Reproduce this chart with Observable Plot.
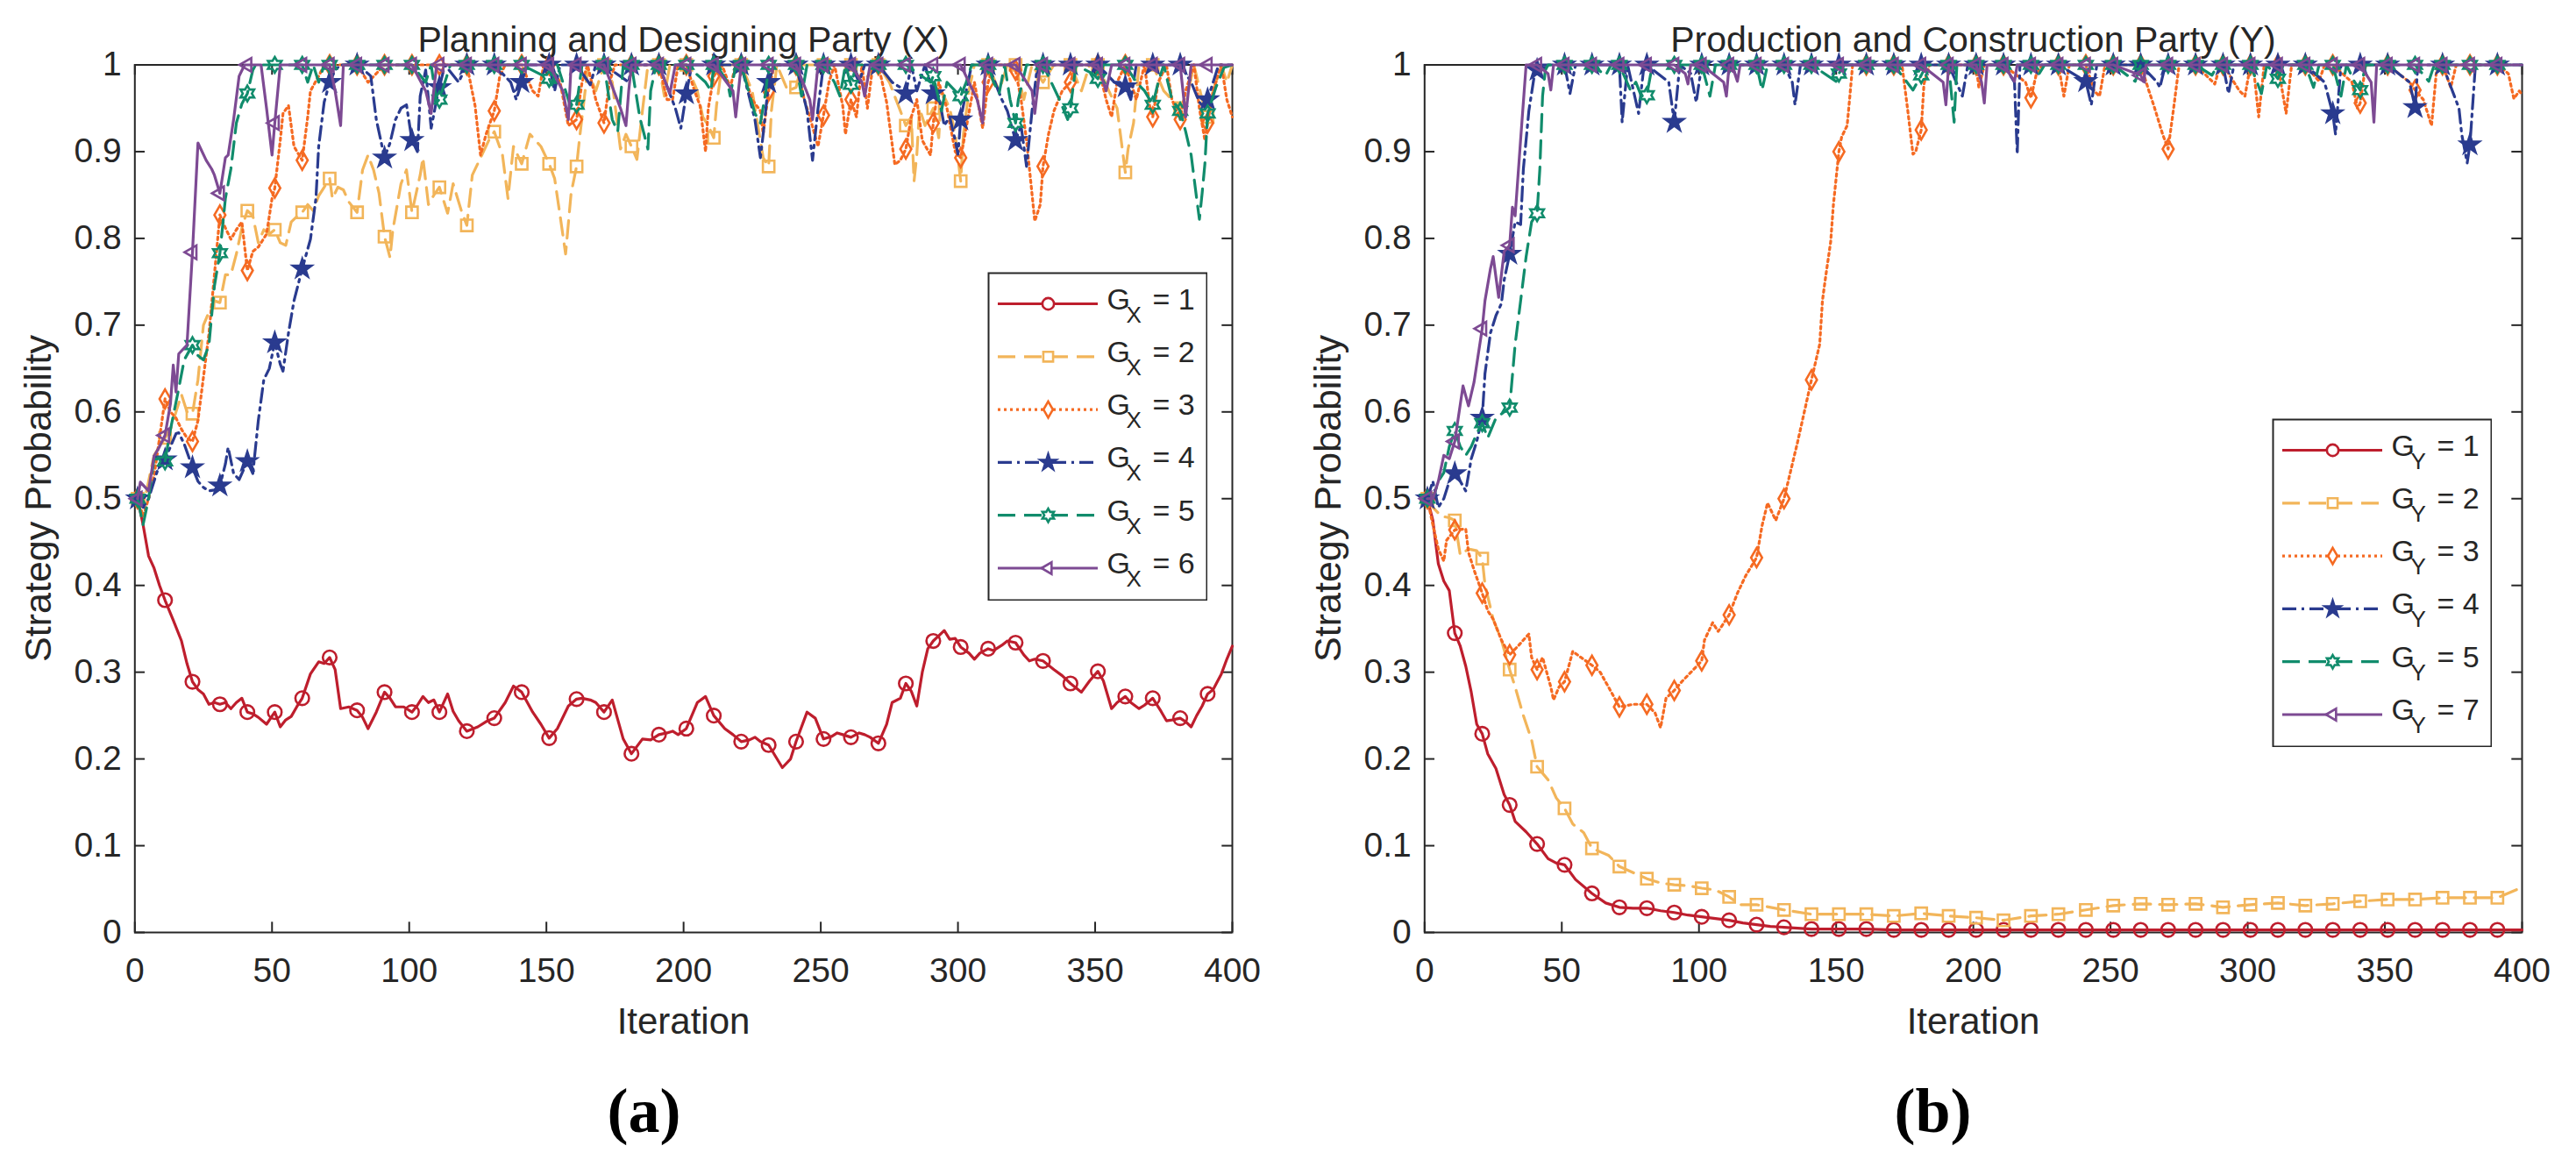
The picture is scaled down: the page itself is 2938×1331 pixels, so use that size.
<!DOCTYPE html>
<html>
<head>
<meta charset="utf-8">
<script src="https://cdn.jsdelivr.net/npm/d3@7"></script>
<script src="https://cdn.jsdelivr.net/npm/@observablehq/plot@0.6"></script>
<style>
html,body{margin:0;padding:0;background:#fff;}
#fig{position:relative;width:2938px;height:1331px;overflow:hidden;background:#fff;}
#fig svg{position:absolute;max-width:none;}
</style>
</head>
<body>
<div id="fig"></div>
<script>
// ---------- text ----------
const titleX = "Planning and Designing Party (X)";
const titleY = "Production and Construction Party (Y)";
const xLabel = "Iteration";
const yLabel = "Strategy Probability";
const panelTags = ["(a)", "(b)"];
const legendNamesX = ["1", "2", "3", "4", "5", "6"];
const legendNamesY = ["1", "2", "3", "4", "5", "7"];

// ---------- ticks ----------
const xTicks = [0, 50, 100, 150, 200, 250, 300, 350, 400];
const yTicks = [0, 0.1, 0.2, 0.3, 0.4, 0.5, 0.6, 0.7, 0.8, 0.9, 1];

// marker iterations: 1, 11, 21, ..., 391
const markIters = d3.range(1, 400, 10);

// ---------- Panel (a): Planning and Designing Party ----------
const X1_marks = [0.5,0.383,0.289,0.263,0.254,0.254,0.27,0.317,0.256,0.277,
  0.254,0.254,0.232,0.247,0.277,0.224,0.269,0.254,0.206,0.228,
  0.235,0.25,0.22,0.216,0.22,0.223,0.225,0.218,0.287,0.336,
  0.329,0.327,0.334,0.313,0.287,0.301,0.272,0.27,0.247,0.275];
const X1_extra = [[3,0.47],[5,0.434],[7,0.42],[9,0.4],[14,0.36],[17,0.336],[19,0.31],[23,0.28],[25,0.275],[27,0.263],[29,0.265],[33,0.265],[35,0.258],[37,0.265],[39,0.27],[43,0.252],[45,0.248],[48,0.24],[53,0.237],[55,0.245],[57,0.249],[59,0.26],[64,0.298],[67,0.312],[69,0.31],[73,0.303],[75,0.258],[78,0.26],[83,0.248],[85,0.235],[88,0.254],[93,0.27],[95,0.26],[98,0.26],[103,0.262],[105,0.272],[107,0.265],[109,0.268],[114,0.275],[116,0.255],[118,0.244],[125,0.237],[128,0.243],[135,0.265],[138,0.284],[145,0.254],[148,0.24],[154,0.235],[158,0.261],[163,0.27],[166,0.268],[168,0.265],[174,0.268],[178,0.223],[185,0.223],[188,0.222],[194,0.23],[196,0.232],[198,0.228],[205,0.265],[208,0.272],[215,0.235],[218,0.228],[224,0.222],[226,0.225],[228,0.22],[236,0.19],[239,0.2],[245,0.254],[248,0.247],[254,0.226],[256,0.23],[258,0.228],[264,0.23],[266,0.228],[268,0.225],[274,0.24],[276,0.265],[279,0.27],[283,0.278],[285,0.261],[287,0.3],[289,0.327],[293,0.342],[295,0.348],[297,0.338],[299,0.339],[304,0.322],[306,0.315],[308,0.322],[313,0.325],[316,0.331],[318,0.336],[324,0.32],[326,0.313],[328,0.315],[335,0.303],[338,0.296],[343,0.282],[345,0.277],[348,0.29],[353,0.29],[356,0.258],[358,0.265],[363,0.265],[366,0.258],[368,0.262],[374,0.255],[376,0.244],[378,0.245],[383,0.243],[385,0.237],[387,0.25],[389,0.261],[393,0.28],[396,0.298],[398,0.315],[400,0.33]];

const X2_marks = [0.5,0.57,0.598,0.726,0.832,0.81,0.83,0.869,0.83,0.802,
  0.83,0.859,0.815,0.923,0.886,0.886,0.883,1,0.906,1,
  1,0.916,1,0.883,0.974,1,1,1,0.93,0.95,
  0.866,1,1,0.98,1,1,0.876,1,0.95,0.94];
const X2_extra = [[3,0.49],[5,0.52],[7,0.55],[9,0.56],[13,0.58],[15,0.6],[17,0.62],[19,0.6],[23,0.637],[25,0.7],[27,0.715],[29,0.728],[33,0.758],[35,0.758],[37,0.782],[39,0.812],[43,0.826],[45,0.795],[47,0.81],[49,0.805],[53,0.795],[55,0.792],[57,0.819],[59,0.825],[63,0.839],[65,0.832],[67,0.849],[69,0.859],[72,0.846],[74,0.859],[76,0.856],[78,0.842],[83,0.879],[85,0.896],[87,0.879],[89,0.852],[93,0.778],[94,0.809],[97,0.863],[99,0.879],[104,0.873],[105,0.893],[107,0.839],[109,0.85],[114,0.829],[116,0.863],[119,0.832],[123,0.873],[126,0.893],[129,0.913],[134,0.896],[136,0.846],[138,0.906],[144,0.92],[148,0.906],[153,0.869],[155,0.826],[157,0.782],[159,0.852],[162,0.913],[165,0.994],[168,0.97],[174,0.98],[177,0.903],[179,0.92],[183,0.891],[185,0.947],[187,1],[193,0.964],[195,1],[205,0.97],[207,0.94],[209,0.93],[212,0.953],[214,1],[225,0.97],[229,0.893],[232,0.947],[234,1],[238,0.97],[243,1],[265,0.98],[275,0.98],[279,0.947],[283,0.94],[284,0.866],[285,0.896],[286,0.95],[288,0.93],[293,0.916],[294,0.97],[297,0.95],[299,0.92],[302,0.92],[304,0.97],[306,1],[315,0.97],[318,1],[324,0.96],[327,1],[335,1],[345,0.97],[348,1],[355,0.97],[358,0.95],[362,0.903],[364,0.933],[366,1],[375,0.97],[378,0.96],[384,0.97],[386,1],[389,0.96],[393,0.97],[396,1],[398,0.98],[400,1]];

const X3_marks = [0.5,0.615,0.566,0.827,0.763,0.858,0.89,1,1,1,
  1,1,1,0.947,1,1,0.937,0.933,1,1,
  1,0.987,1,0.97,1,0.942,0.96,1,0.903,0.933,
  0.893,0.98,0.994,0.883,0.98,1,1,0.94,0.937,0.933];
const X3_extra = [[3,0.48],[5,0.5],[7,0.526],[9,0.57],[13,0.6],[15,0.593],[17,0.58],[19,0.57],[23,0.59],[25,0.64],[27,0.69],[29,0.758],[33,0.812],[35,0.799],[37,0.81],[39,0.819],[43,0.785],[45,0.79],[48,0.805],[50,0.846],[53,0.913],[54,0.944],[56,0.953],[58,0.906],[63,0.94],[64,0.97],[67,0.987],[69,1],[85,0.98],[124,0.953],[126,0.896],[128,0.92],[133,0.987],[135,1],[145,0.97],[147,0.964],[149,1],[155,0.98],[158,0.93],[163,0.98],[165,1],[168,0.96],[173,0.98],[175,1],[194,0.96],[196,0.96],[198,1],[204,0.97],[206,0.953],[208,0.9],[209,0.95],[214,1],[217,0.974],[219,1],[225,0.96],[228,0.947],[229,0.92],[233,1],[244,0.96],[246,0.94],[249,0.906],[253,0.98],[255,1],[258,0.953],[259,0.92],[263,0.94],[265,1],[267,0.95],[269,1],[274,0.957],[277,0.885],[279,0.89],[283,0.94],[285,0.96],[287,0.913],[290,0.896],[293,0.98],[296,0.95],[299,0.9],[303,0.927],[306,0.98],[309,0.927],[313,1],[318,1],[323,0.96],[325,0.913],[328,0.82],[330,0.839],[333,0.92],[335,0.947],[338,0.97],[343,1],[354,0.96],[356,0.94],[358,0.98],[365,0.96],[368,1],[370,0.95],[373,0.98],[376,1],[378,0.96],[383,0.97],[386,1],[388,0.95],[390,0.913],[393,0.97],[396,1],[398,0.96],[400,0.94]];

const X4_marks = [0.5,0.545,0.536,0.515,0.543,0.68,0.765,0.98,1,0.893,
  0.913,0.974,1,1,0.98,1,1,1,1,1,
  0.967,1,1,0.98,1,1,1,1,0.967,0.967,
  0.937,1,0.913,1,1,1,0.975,1,1,0.96];
const X4_extra = [[3,0.49],[5,0.5],[7,0.52],[9,0.54],[13,0.56],[15,0.575],[16,0.576],[18,0.563],[23,0.52],[25,0.513],[27,0.509],[29,0.51],[33,0.54],[34,0.559],[36,0.529],[38,0.522],[43,0.529],[45,0.59],[47,0.637],[49,0.65],[53,0.655],[54,0.647],[56,0.691],[58,0.728],[64,0.799],[66,0.846],[67,0.906],[69,0.957],[73,0.994],[75,1],[85,0.99],[86,0.987],[88,0.937],[93,0.91],[95,0.937],[97,0.95],[99,0.954],[103,0.9],[104,0.964],[106,0.994],[108,0.927],[110,0.96],[113,1],[118,0.98],[137,0.98],[139,0.96],[143,1],[153,0.97],[155,1],[166,0.977],[168,1],[180,0.98],[197,0.95],[199,0.927],[203,1],[226,0.937],[228,0.893],[229,0.92],[233,1],[245,0.947],[247,0.89],[249,0.95],[264,0.98],[266,1],[276,0.98],[279,0.974],[283,1],[285,0.97],[288,1],[293,0.964],[295,0.93],[297,0.94],[299,0.913],[300,0.897],[303,0.97],[305,1],[316,0.96],[318,0.947],[323,0.93],[325,0.883],[327,0.947],[329,1],[357,0.98],[359,0.98],[363,0.96],[365,1],[385,0.98],[388,0.957],[390,0.95],[393,0.98],[395,1],[400,1]];

const X5_marks = [0.5,0.543,0.677,0.783,0.967,1,1,1,1,1,
  1,0.96,1,1,1,0.984,0.954,1,1,1,
  1,1,1,1,1,1,0.977,1,1,0.987,
  0.964,1,0.933,1,0.95,0.984,1,0.954,0.947,0.944];
const X5_extra = [[3,0.47],[5,0.5],[7,0.546],[9,0.545],[13,0.58],[16,0.627],[18,0.66],[23,0.665],[25,0.66],[27,0.677],[29,0.745],[33,0.846],[35,0.88],[37,0.933],[39,0.955],[43,0.994],[44,1],[63,0.98],[65,1],[67,0.98],[69,1],[106,0.98],[108,1],[110,0.957],[113,0.98],[115,1],[152,0.977],[154,1],[159,0.95],[163,1],[174,0.937],[176,0.923],[178,1],[184,0.94],[187,0.903],[188,0.97],[190,1],[208,0.98],[210,0.97],[212,1],[216,0.98],[217,0.964],[219,1],[226,0.944],[228,0.933],[230,0.97],[232,1],[243,0.964],[245,1],[255,0.98],[257,0.964],[259,1],[263,1],[290,0.98],[294,0.947],[296,0.98],[299,0.97],[303,0.98],[305,1],[313,0.98],[315,0.967],[317,1],[319,0.96],[322,0.96],[325,1],[337,0.96],[340,0.937],[343,1],[349,0.99],[353,1],[365,0.98],[368,0.97],[373,0.98],[375,1],[378,0.96],[383,0.923],[385,0.896],[387,0.846],[388,0.822],[389,0.852],[390,0.886],[394,0.974],[397,0.997],[400,1]];

const X6_marks = [0.5,0.573,0.784,0.852,1,0.933,1,1,1,1,
  1,1,1,1,1,1,1,1,1,1,
  1,1,1,1,1,1,1,1,1,1,
  1,1,1,1,1,1,1,1,1,1];
const X6_extra = [[2,0.519],[5,0.509],[7,0.549],[9,0.56],[13,0.61],[14,0.654],[15,0.623],[16,0.667],[19,0.677],[23,0.91],[26,0.89],[28,0.88],[29,0.873],[33,0.893],[34,0.896],[36,0.937],[38,0.987],[40,1],[46,1],[48,0.95],[50,0.896],[53,1],[73,0.97],[75,0.93],[76,1],[106,0.97],[108,0.944],[110,1],[156,0.97],[158,0.937],[159,1],[177,0.95],[179,0.93],[180,0.97],[195,0.967],[197,1],[218,0.97],[219,0.94],[246,0.96],[247,0.937],[249,1],[265,0.98],[266,0.964],[268,1],[307,0.96],[309,0.933],[310,1],[327,0.97],[328,0.944],[330,1],[354,0.97],[356,1],[383,0.94],[385,1],[400,1]];

// ---------- Panel (b): Production and Construction Party ----------
const Y1_marks = [0.5,0.345,0.229,0.147,0.102,0.078,0.045,0.029,0.028,0.023,
  0.018,0.014,0.009,0.006,0.004,0.004,0.004,0.003,0.003,0.003,
  0.003,0.003,0.003,0.003,0.003,0.003,0.003,0.003,0.003,0.003,
  0.003,0.003,0.003,0.003,0.003,0.003,0.003,0.003,0.003,0.003];
const Y1_extra = [[3,0.475],[5,0.425],[7,0.405],[9,0.394],[13,0.33],[15,0.307],[17,0.277],[19,0.24],[23,0.206],[26,0.189],[29,0.159],[33,0.128],[37,0.116],[45,0.085],[48,0.08],[55,0.061],[66,0.034],[76,0.028],[86,0.025],[96,0.02],[106,0.016],[116,0.011],[126,0.007],[400,0.003]];

const Y2_marks = [0.5,0.475,0.431,0.303,0.191,0.143,0.097,0.076,0.062,0.055,
  0.051,0.041,0.032,0.026,0.021,0.021,0.021,0.019,0.022,0.019,
  0.017,0.014,0.019,0.021,0.026,0.031,0.033,0.032,0.033,0.029,
  0.032,0.034,0.031,0.033,0.036,0.038,0.038,0.04,0.04,0.04];
const Y2_extra = [[3,0.49],[6,0.48],[9,0.478],[13,0.435],[16,0.442],[19,0.44],[22,0.401],[25,0.361],[28,0.337],[33,0.283],[36,0.25],[39,0.222],[45,0.176],[48,0.155],[54,0.125],[58,0.115],[67,0.089],[76,0.069],[86,0.057],[96,0.054],[106,0.049],[115,0.032],[400,0.052]];

const Y3_marks = [0.5,0.464,0.391,0.32,0.303,0.289,0.308,0.26,0.263,0.279,
  0.313,0.366,0.432,0.5,0.637,0.9,1,1,0.925,1,
  1,1,0.962,1,1,1,1,0.903,1,1,
  1,1,1,1,0.956,1,0.971,1,1,1];
const Y3_extra = [[3,0.47],[5,0.442],[7,0.428],[8,0.452],[15,0.465],[16,0.438],[18,0.418],[23,0.371],[25,0.361],[28,0.337],[34,0.33],[36,0.337],[38,0.344],[39,0.317],[43,0.317],[46,0.283],[47,0.268],[49,0.283],[54,0.324],[57,0.317],[64,0.3],[67,0.283],[76,0.263],[84,0.253],[86,0.236],[88,0.27],[94,0.29],[98,0.303],[102,0.337],[105,0.357],[107,0.347],[114,0.391],[117,0.411],[123,0.469],[125,0.495],[128,0.475],[136,0.566],[144,0.678],[145,0.728],[146,0.752],[148,0.796],[149,0.839],[152,0.917],[154,0.93],[155,0.964],[156,1],[174,1],[176,0.95],[178,0.897],[179,0.9],[182,0.978],[184,1],[202,0.974],[204,1],[219,0.98],[223,0.99],[225,1],[233,0.964],[235,1],[244,0.97],[246,0.964],[248,1],[264,0.97],[266,0.951],[269,0.92],[273,0.95],[275,1],[288,0.978],[290,1],[297,0.97],[299,0.964],[302,1],[304,0.94],[306,1],[314,0.944],[316,1],[326,0.981],[328,1],[338,0.98],[340,0.95],[343,1],[359,0.98],[364,0.96],[367,0.93],[369,1],[374,0.974],[376,1],[395,0.99],[397,0.961],[399,0.97],[400,0.965]];

const Y4_marks = [0.5,0.529,0.593,0.782,0.994,1,1,1,1,0.934,
  1,1,1,1,1,1,1,1,1,1,
  1,1,1,1,0.981,1,1,1,1,1,
  1,1,1,0.944,1,1,0.951,1,0.908,1];
const Y4_extra = [[3,0.52],[5,0.49],[7,0.5],[9,0.52],[13,0.52],[15,0.509],[17,0.546],[19,0.566],[22,0.644],[24,0.691],[26,0.711],[28,0.725],[29,0.752],[33,0.819],[35,0.816],[36,0.88],[38,0.947],[40,0.988],[43,1],[53,0.967],[55,1],[72,0.934],[74,1],[78,0.944],[80,1],[89,0.98],[93,1],[97,0.99],[99,0.957],[134,0.98],[135,0.954],[137,1],[196,0.964],[198,1],[215,0.98],[216,0.897],[217,1],[243,0.954],[245,1],[267,0.98],[268,0.974],[270,1],[293,0.967],[295,1],[328,0.98],[332,0.92],[334,1],[359,0.98],[362,1],[377,0.95],[378,0.92],[380,0.887],[383,1],[400,1]];

const Y5_marks = [0.5,0.578,0.587,0.605,0.829,1,1,1,0.965,1,
  1,1,1,1,1,0.99,1,1,0.988,1,
  1,1,1,1,1,1,1,1,1,1,
  1,0.984,1,1,0.971,1,1,1,1,1];
const Y5_extra = [[3,0.5],[5,0.52],[7,0.53],[9,0.56],[13,0.56],[15,0.55],[17,0.56],[19,0.575],[23,0.57],[26,0.593],[29,0.6],[33,0.678],[35,0.728],[37,0.779],[39,0.819],[42,0.88],[43,0.964],[44,0.994],[45,1],[65,0.99],[66,0.988],[68,1],[75,0.971],[77,0.98],[79,0.964],[83,1],[104,0.964],[106,1],[123,0.971],[125,1],[150,0.981],[153,1],[178,0.971],[183,1],[193,0.934],[194,1],[224,0.99],[226,1],[259,0.981],[287,0.988],[289,1],[305,0.967],[307,1],[313,1],[324,0.974],[326,1],[334,0.964],[336,1],[339,0.98],[343,1],[366,0.981],[368,1],[400,1]];

const Y7_marks = [0.5,0.566,0.696,0.792,1,1,1,1,1,1,
  1,1,1,1,1,1,1,1,1,1,
  1,1,1,1,1,1,0.988,1,1,1,
  1,1,1,1,1,1,1,1,1,1];
const Y7_extra = [[3,0.5],[5,0.52],[7,0.55],[9,0.546],[14,0.63],[16,0.607],[18,0.634],[22,0.728],[24,0.765],[25,0.779],[27,0.732],[29,0.785],[32,0.836],[33,0.826],[35,0.914],[37,1],[45,0.99],[46,0.971],[47,1],[95,0.99],[96,0.978],[97,1],[109,0.98],[110,0.964],[112,1],[114,0.981],[115,1],[189,0.98],[190,0.954],[192,1],[203,0.98],[204,0.956],[205,1],[215,0.981],[216,1],[262,0.981],[263,1],[345,0.98],[346,0.934],[347,1],[400,1]];

// ---------- build ----------
function build(marks, extra) {
  const m = new Map(extra.map(([i, v]) => [i, v]));
  marks.forEach((v, k) => m.set(markIters[k], v));
  return Array.from(m, ([i, v]) => ({i, v})).sort((a, b) => a.i - b.i);
}
const seriesX = [build(X1_marks, X1_extra), build(X2_marks, X2_extra), build(X3_marks, X3_extra),
                 build(X4_marks, X4_extra), build(X5_marks, X5_extra), build(X6_marks, X6_extra)];
const seriesY = [build(Y1_marks, Y1_extra), build(Y2_marks, Y2_extra), build(Y3_marks, Y3_extra),
                 build(Y4_marks, Y4_extra), build(Y5_marks, Y5_extra), build(Y7_marks, Y7_extra)];
const markSet = new Set(markIters);

// ---------- styles ----------
const FONT = '"Liberation Sans", Arial, Helvetica, sans-serif';
const INK = "#262626";
const hexagram = {draw(ctx, size) {
  const R = Math.sqrt(size / Math.PI), r2 = R / Math.sqrt(3);
  for (let k = 0; k < 12; k++) {
    const a = -Math.PI / 2 + k * Math.PI / 6, rr = k % 2 ? r2 : R;
    const x = rr * Math.cos(a), y = rr * Math.sin(a);
    if (k) ctx.lineTo(x, y); else ctx.moveTo(x, y);
  }
  ctx.closePath();
}};
const triLeft = {draw(ctx, size) {
  const R = Math.sqrt(size / Math.PI);
  ctx.moveTo(-R, 0); ctx.lineTo(R * 0.5, -R * 0.866); ctx.lineTo(R * 0.5, R * 0.866); ctx.closePath();
}};
const styles = [
  {color: "#BE1E2D", dash: null,        symbol: "circle",  r: 7.8, fill: "none"},
  {color: "#F2B55A", dash: "20,10",     symbol: "square",  r: 7.4, fill: "none"},
  {color: "#F56A22", dash: "3,4",       symbol: "diamond", r: 6.6, fill: "none"},
  {color: "#2A3B8F", dash: "16,6,3,6",  symbol: "star",    r: 6.6, fill: "#2A3B8F"},
  {color: "#118C6C", dash: "20,10",     symbol: hexagram,  r: 9,   fill: "none"},
  {color: "#7D4A93", dash: null,        symbol: triLeft,   r: 9,   fill: "none"}
];

const fig = document.getElementById("fig");
function place(el, left, top) { el.style.left = left + "px"; el.style.top = top + "px"; fig.appendChild(el); }

// ---------- overlay text ----------
const overlay = Plot.plot({
  width: 2938, height: 1331, margin: 0,
  x: {type: "identity", axis: null}, y: {type: "identity", axis: null},
  style: {background: "transparent", fontFamily: FONT, color: INK, maxWidth: "none"},
  marks: [
    Plot.text([titleX], {x: 779, y: 58, text: d => d, fontSize: 41, lineAnchor: "bottom", fill: INK}),
    Plot.text([titleY], {x: 2250, y: 58, text: d => d, fontSize: 41, lineAnchor: "bottom", fill: INK}),
    Plot.text([xLabel], {x: 779, y: 1178, text: d => d, fontSize: 42, lineAnchor: "bottom", fill: INK}),
    Plot.text([xLabel], {x: 2250, y: 1178, text: d => d, fontSize: 42, lineAnchor: "bottom", fill: INK}),
    Plot.text([yLabel], {x: 44, y: 568, text: d => d, fontSize: 43, rotate: -90, fill: INK}),
    Plot.text([yLabel], {x: 1514.5, y: 568, text: d => d, fontSize: 43, rotate: -90, fill: INK}),
    Plot.text([panelTags[0]], {x: 734, y: 1290, text: d => d, fontSize: 72, fontWeight: "bold", fontFamily: '"Liberation Serif", "Times New Roman", serif', lineAnchor: "bottom", fill: "#000"}),
    Plot.text([panelTags[1]], {x: 2204, y: 1290, text: d => d, fontSize: 72, fontWeight: "bold", fontFamily: '"Liberation Serif", "Times New Roman", serif', lineAnchor: "bottom", fill: "#000"})
  ]
});
place(overlay, 0, 0);

// ---------- panels ----------
function drawPanel(seriesList) {
  const TX = 11.7 / 3.13, TY = 11.7 / 989.5;
  const marks = [
    Plot.ruleX(xTicks, {y1: 0, y2: TY, stroke: INK, strokeWidth: 2}),
    Plot.ruleX(xTicks, {y1: 1, y2: 1 - TY, stroke: INK, strokeWidth: 2}),
    Plot.ruleY(yTicks, {x1: 0, x2: TX, stroke: INK, strokeWidth: 2}),
    Plot.ruleY(yTicks, {x1: 400, x2: 400 - TX, stroke: INK, strokeWidth: 2}),
    Plot.frame({stroke: INK, strokeWidth: 2}),
    Plot.axisX({ticks: xTicks, tickSize: 0, tickPadding: 29, fontSize: 39, label: null, tickFormat: d => String(d), fill: INK}),
    Plot.axisY({ticks: yTicks, tickSize: 0, tickPadding: 15, fontSize: 39, label: null, tickFormat: d => String(d), fill: INK})
  ];
  seriesList.forEach((data, k) => {
    const s = styles[k];
    const lo = {x: "i", y: "v", stroke: s.color, strokeWidth: 3.2};
    if (s.dash) lo.strokeDasharray = s.dash;
    marks.push(Plot.line(data, lo));
    marks.push(Plot.dot(data.filter(d => markSet.has(d.i)), {x: "i", y: "v", r: s.r, symbol: s.symbol, stroke: s.color, fill: s.fill, strokeWidth: 2.6}));
  });
  return Plot.plot({
    width: 1460, height: 1200,
    marginLeft: 153.3, marginRight: 55, marginTop: 73.5, marginBottom: 137,
    x: {domain: [0, 400]}, y: {domain: [0, 1]},
    style: {background: "transparent", fontFamily: FONT, fontSize: "39px", color: INK, maxWidth: "none", overflow: "visible"},
    marks
  });
}
place(drawPanel(seriesX), 0, 0);
place(drawPanel(seriesY), 1470.5, 0);

// ---------- legends ----------
function drawLegend(names, sub) {
  const marks = [Plot.frame({fill: "white", stroke: INK, strokeWidth: 2, inset: 1})];
  names.forEach((name, k) => {
    const s = styles[k], y = 36 + 60.3 * k;
    const lo = {x1: 12, x2: 126, stroke: s.color, strokeWidth: 3.2};
    if (s.dash) lo.strokeDasharray = s.dash;
    marks.push(Plot.ruleY([y], lo));
    marks.push(Plot.dot([0], {x: 69, y: y, r: s.r * 0.85, symbol: s.symbol, stroke: s.color, fill: s.fill === "none" ? "white" : s.fill, strokeWidth: 2.6}));
    marks.push(Plot.text(["G"], {x: 136, y: y + 6, text: d => d, fontSize: 34, textAnchor: "start", lineAnchor: "bottom", fill: INK}));
    marks.push(Plot.text([sub], {x: 158, y: y + 21, text: d => d, fontSize: 26, textAnchor: "start", lineAnchor: "bottom", fill: INK}));
    marks.push(Plot.text(["= " + name], {x: 188, y: y + 6, text: d => d, fontSize: 34, textAnchor: "start", lineAnchor: "bottom", fill: INK}));
  });
  return Plot.plot({
    width: 251, height: 375, margin: 0,
    x: {type: "identity", axis: null}, y: {type: "identity", axis: null},
    style: {background: "transparent", fontFamily: FONT, color: INK, maxWidth: "none"},
    marks
  });
}
place(drawLegend(legendNamesX, "X"), 1125.5, 309.5);
place(drawLegend(legendNamesY, "Y"), 2591, 477);
</script>
</body>
</html>
